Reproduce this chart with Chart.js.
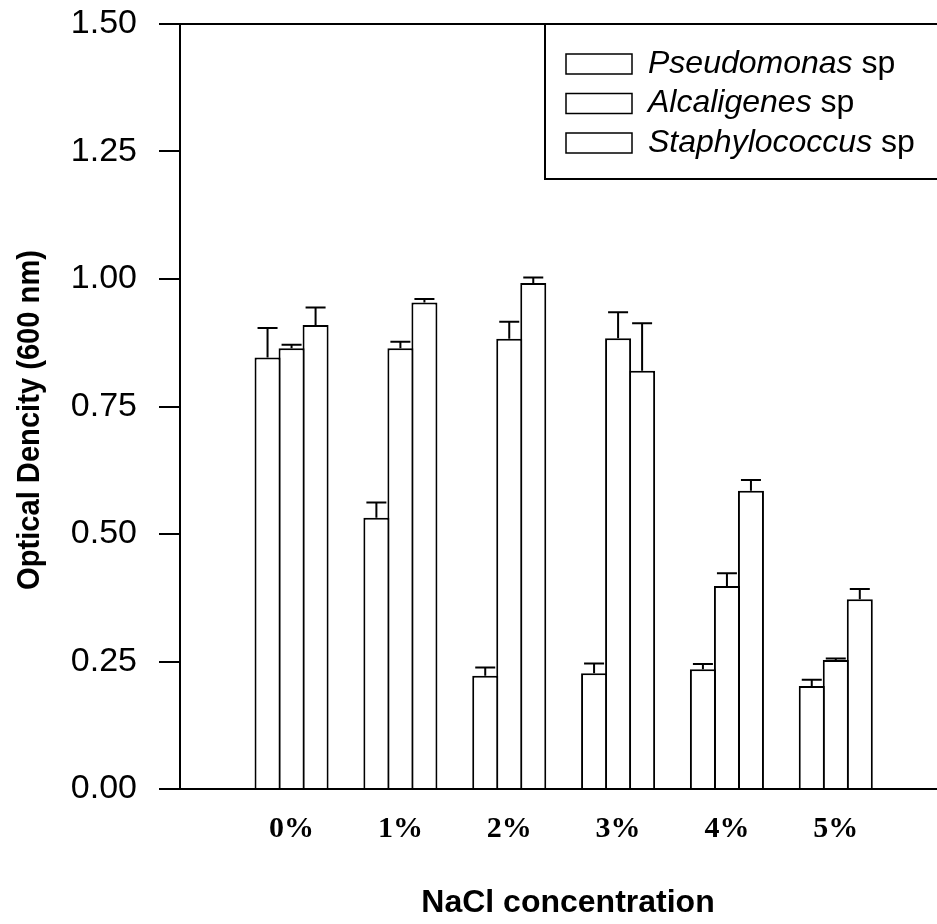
<!DOCTYPE html>
<html>
<head>
<meta charset="utf-8">
<title>Optical Dencity vs NaCl concentration</title>
<script src="https://cdn.jsdelivr.net/npm/chart.js@4.4.1/dist/chart.umd.min.js"></script>
<style>
  html, body { margin: 0; padding: 0; background: #fff; }
  #wrap { width: 937px; height: 924px; }
</style>
</head>
<body>
<div id="wrap"><canvas id="odChart" width="937" height="924"></canvas></div>
<script>
// NaCl levels shown on the x axis
const categories = ['0%', '1%', '2%', '3%', '4%', '5%'];
const seriesNames = ['Pseudomonas', 'Alcaligenes', 'Staphylococcus'];

// mean OD (600 nm) for each strain
const pseudomonas = [0.846, 0.532, 0.222, 0.227, 0.235, 0.202];
const alcaligenes = [0.864, 0.864, 0.883, 0.884, 0.398, 0.253];
const staphylococcus = [0.910, 0.954, 0.992, 0.820, 0.585, 0.372];

// upper error bars (one sided)
const pseudomonasErr = [0.058, 0.030, 0.016, 0.019, 0.010, 0.012];
const alcaligenesErr = [0.007, 0.013, 0.033, 0.051, 0.025, 0.003];
const staphylococcusErr = [0.034, 0.007, 0.011, 0.093, 0.021, 0.020];

const yTicks = [0, 0.25, 0.5, 0.75, 1.0, 1.25, 1.5];

const FONT = "'Liberation Sans', Arial, sans-serif";

// turn a value list into {x, y} points, categories sit at 1..6 on a linear axis
function toPoints(values) {
  return values.map((v, i) => ({ x: i + 1, y: v }));
}

const barStyle = {
  backgroundColor: '#ffffff',
  borderColor: '#000000',
  borderWidth: 2,
  borderSkipped: 'start',
  categoryPercentage: 0.662,
  barPercentage: 1.083, // slight overlap so neighbouring bars share one edge
};

// draws the upward error bars on top of each bar
const errorBarsPlugin = {
  id: 'errorBars',
  afterDatasetsDraw(chart) {
    const ctx = chart.ctx;
    const yScale = chart.scales.y;
    ctx.save();
    ctx.strokeStyle = '#000';
    ctx.lineWidth = 2;
    chart.data.datasets.forEach((ds, di) => {
      const meta = chart.getDatasetMeta(di);
      meta.data.forEach((bar, i) => {
        const err = ds.errors[i];
        if (!err) return;
        const yTop = yScale.getPixelForValue(ds.data[i].y + err);
        ctx.beginPath();
        ctx.moveTo(bar.x, bar.y);
        ctx.lineTo(bar.x, yTop);
        ctx.moveTo(bar.x - 10, yTop);
        ctx.lineTo(bar.x + 10, yTop);
        ctx.stroke();
      });
    });
    ctx.restore();
  },
};

// top frame line, legend box and axis titles
const decorPlugin = {
  id: 'decor',
  afterDraw(chart) {
    const ctx = chart.ctx;
    const area = chart.chartArea;
    ctx.save();
    ctx.strokeStyle = '#000';
    ctx.fillStyle = '#000';
    ctx.lineWidth = 2;

    // top frame
    ctx.beginPath();
    ctx.moveTo(area.left, area.top);
    ctx.lineTo(chart.width, area.top);
    ctx.stroke();

    // legend box (open to the right, like the original)
    const boxLeft = 545;
    const boxBottom = 179;
    ctx.beginPath();
    ctx.moveTo(boxLeft, area.top);
    ctx.lineTo(boxLeft, boxBottom);
    ctx.lineTo(chart.width, boxBottom);
    ctx.stroke();

    ctx.lineWidth = 1.5;
    ctx.textBaseline = 'middle';
    ctx.textAlign = 'left';
    seriesNames.forEach((name, i) => {
      const cy = area.top + 40 + i * 39.5;
      ctx.strokeRect(566, cy - 10, 66, 20);
      ctx.font = 'italic 32px ' + FONT;
      ctx.fillText(name, 648, cy);
      const w = ctx.measureText(name).width;
      ctx.font = '32px ' + FONT;
      ctx.fillText(' sp', 648 + w, cy);
    });

    // y axis title
    ctx.save();
    ctx.translate(30, 420);
    ctx.rotate(-Math.PI / 2);
    ctx.scale(0.94, 1);
    ctx.font = 'bold 31px ' + FONT;
    ctx.textAlign = 'center';
    ctx.fillText('Optical Dencity (600 nm)', 0, 0);
    ctx.restore();

    // x axis title
    ctx.save();
    ctx.translate(568, 903);
    ctx.font = 'bold 32px ' + FONT;
    ctx.textAlign = 'center';
    ctx.fillText('NaCl concentration', 0, 0);
    ctx.restore();

    ctx.restore();
  },
};

const ctx = document.getElementById('odChart').getContext('2d');
const chart = new Chart(ctx, {
  type: 'bar',
  data: {
    datasets: [
      { label: seriesNames[0], data: toPoints(pseudomonas), errors: pseudomonasErr, ...barStyle },
      { label: seriesNames[1], data: toPoints(alcaligenes), errors: alcaligenesErr, ...barStyle },
      { label: seriesNames[2], data: toPoints(staphylococcus), errors: staphylococcusErr, ...barStyle },
    ],
  },
  options: {
    responsive: false,
    animation: false,
    devicePixelRatio: 1,
    layout: { padding: { top: 24, right: 0, bottom: 0, left: 0 } },
    plugins: {
      legend: { display: false },
      tooltip: { enabled: false },
    },
    scales: {
      x: {
        type: 'linear',
        offset: false,
        min: -0.025,
        max: 6.93,
        afterBuildTicks: (scale) => {
          scale.ticks = categories.map((c, i) => ({ value: i + 1 }));
        },
        afterFit: (scale) => {
          scale.height = 135;
          scale.paddingLeft = 0;
          scale.paddingRight = 0;
        },
        grid: { display: true, offset: false, drawOnChartArea: false, drawTicks: false },
        border: { display: true, color: '#000', width: 2 },
        ticks: {
          padding: 22,
          maxRotation: 0,
          color: '#000',
          font: { family: "'Liberation Serif', 'Times New Roman', serif", size: 30, weight: 'bold' },
          callback: (value) => categories[Math.round(value) - 1] || '',
        },
      },
      y: {
        min: 0,
        max: 1.5,
        afterBuildTicks: (scale) => {
          scale.ticks = yTicks.map((v) => ({ value: v }));
        },
        afterFit: (scale) => {
          scale.width = 180;
          scale.paddingTop = 0;
          scale.paddingBottom = 0;
        },
        grid: {
          drawOnChartArea: false,
          drawTicks: true,
          tickLength: 21,
          color: '#000',
          lineWidth: 2,
        },
        border: { display: true, color: '#000', width: 2 },
        ticks: {
          padding: 22,
          color: '#000',
          font: { family: FONT, size: 34 },
          callback: (value) => value.toFixed(2),
        },
      },
    },
  },
  plugins: [errorBarsPlugin, decorPlugin],
});
</script>
</body>
</html>
